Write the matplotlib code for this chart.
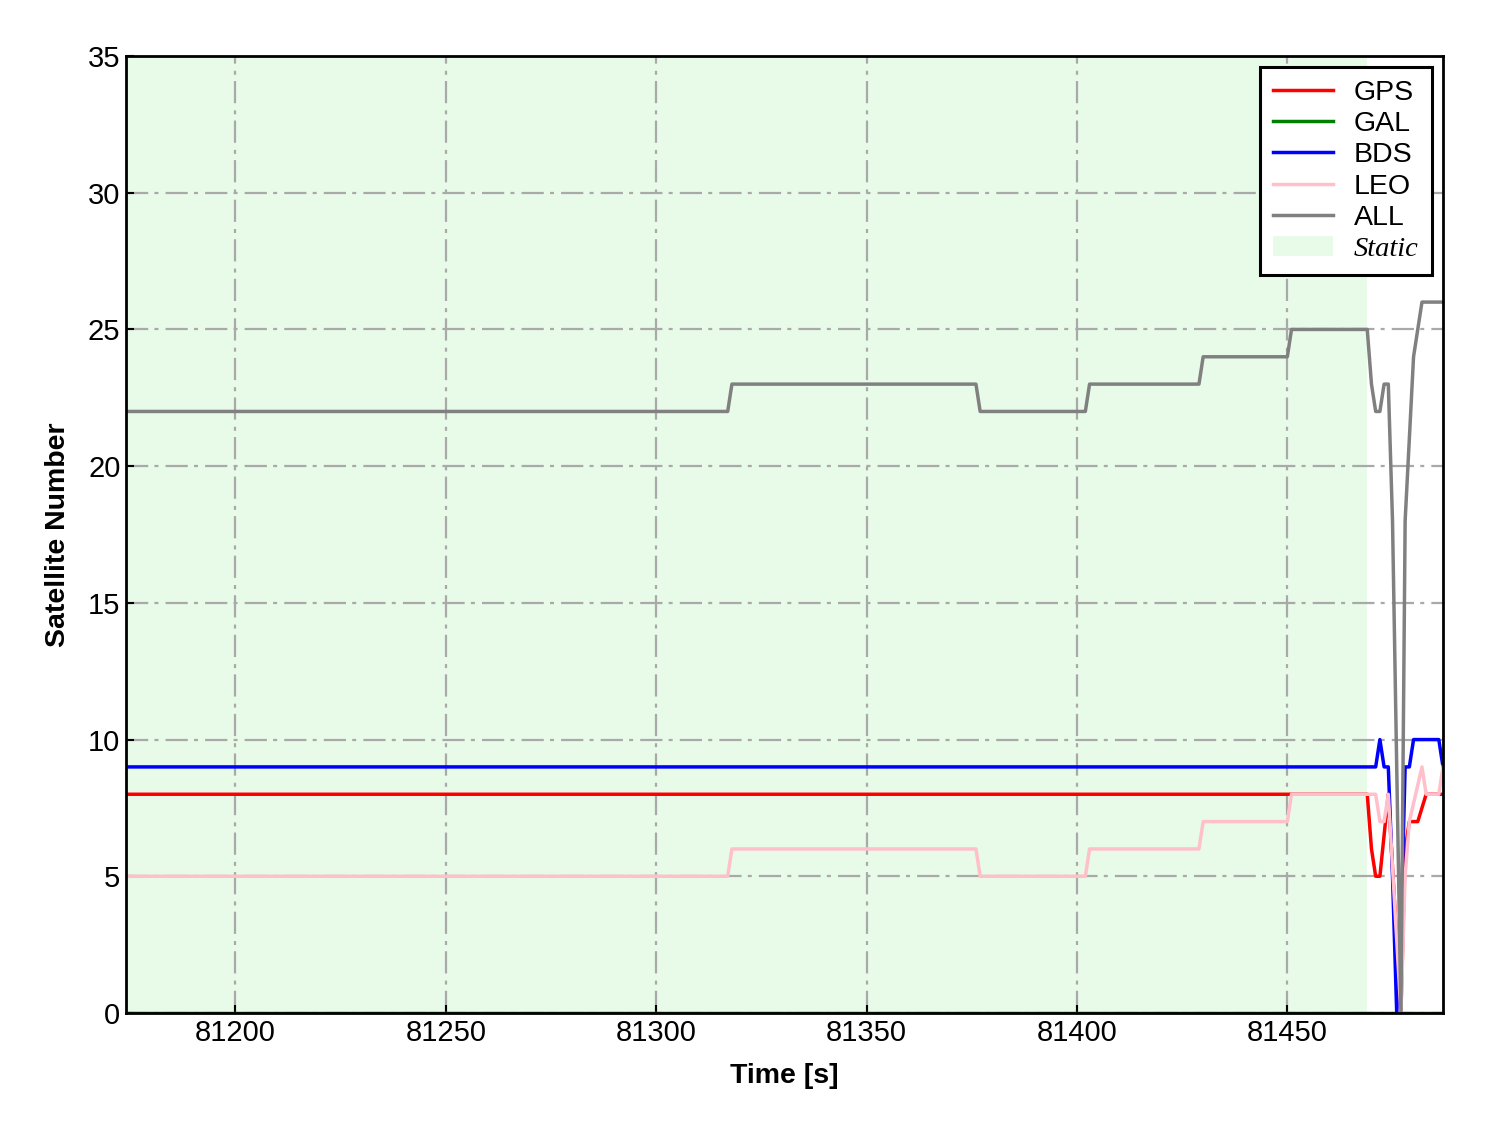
import numpy as np
import matplotlib.pyplot as plt

plt.rcParams["font.family"] = ["Liberation Sans", "DejaVu Sans"]

# time span and static period
t_start, t_end = 81174, 81487
static_end = 81469

# (time, value) breakpoints
gps_t = [81174, 81469, 81470, 81471, 81472, 81474, 81477, 81478, 81479, 81481, 81483, 81487]
gps_v = [8, 8, 6, 5, 5, 8, 0, 6, 7, 7, 8, 8]

gal_t = [81174, 81487]
gal_v = [0, 0]

bds_t = [81174, 81471, 81472, 81473, 81474, 81475, 81476, 81477, 81478, 81479, 81480, 81486, 81487]
bds_v = [9, 9, 10, 9, 9, 5, 0, 3, 9, 9, 10, 10, 9]

leo_t = [81174, 81317, 81318, 81376, 81377, 81402, 81403, 81429, 81430, 81450, 81451,
         81471, 81472, 81473, 81474, 81477, 81478, 81479, 81482, 81483, 81486, 81487]
leo_v = [5, 5, 6, 6, 5, 5, 6, 6, 7, 7, 8,
         8, 7, 7, 8, 0, 5, 7, 9, 8, 8, 9]

all_t = [81174, 81317, 81318, 81376, 81377, 81402, 81403, 81429, 81430, 81450, 81451,
         81469, 81470, 81471, 81472, 81473, 81474, 81475, 81477, 81478, 81480, 81482, 81487]
all_v = [22, 22, 23, 23, 22, 22, 23, 23, 24, 24, 25,
         25, 23, 22, 22, 23, 23, 18, 0, 18, 24, 26, 26]

series = [
    ("GPS", gps_t, gps_v, "red"),
    ("GAL", gal_t, gal_v, "green"),
    ("BDS", bds_t, bds_v, "blue"),
    ("LEO", leo_t, leo_v, "pink"),
    ("ALL", all_t, all_v, "gray"),
]

fig = plt.figure(figsize=(14.88, 11.33), dpi=100)
ax = fig.add_axes([126 / 1488, 1 - 1013 / 1133, (1443 - 126) / 1488, (1013 - 56) / 1133])

for name, t, v, c in series:
    ax.plot(t, v, color=c, lw=2.5, label=name, zorder=2)

ax.axvspan(t_start, static_end, color="lightgreen", alpha=0.2, lw=0, label="Static", zorder=0.1)

ax.set_xlim(t_start, t_end)
ax.set_ylim(0, 35)
ax.set_xticks([81200, 81250, 81300, 81350, 81400, 81450])
ax.set_yticks(np.arange(0, 36, 5))
ax.grid(True, color="darkgray", lw=1.6, linestyle=(0, (10, 2.8, 1.8, 3.2)))
ax.set_axisbelow(True)

ax.tick_params(direction="in", length=6, width=1.5, labelsize=21, pad=4)
for s in ax.spines.values():
    s.set_linewidth(2)
    s.set_color("black")

ax.set_xlabel("Time [s]", fontsize=20.5, fontweight="bold", labelpad=12)
ax.set_ylabel("Satellite Number", fontsize=20.5, fontweight="bold", labelpad=12)

leg = ax.legend(loc="upper right", fontsize=20.5, frameon=True, fancybox=False,
                edgecolor="black", framealpha=1, borderaxespad=0.4,
                handlelength=2.1, handletextpad=0.75, labelspacing=0.18,
                borderpad=0.45)
leg.get_frame().set_linewidth(2.2)
for txt in leg.get_texts():
    if txt.get_text() == "Static":
        txt.set_fontfamily("Liberation Serif")
        txt.set_fontstyle("italic")

fig.savefig("out.png", dpi=100)
